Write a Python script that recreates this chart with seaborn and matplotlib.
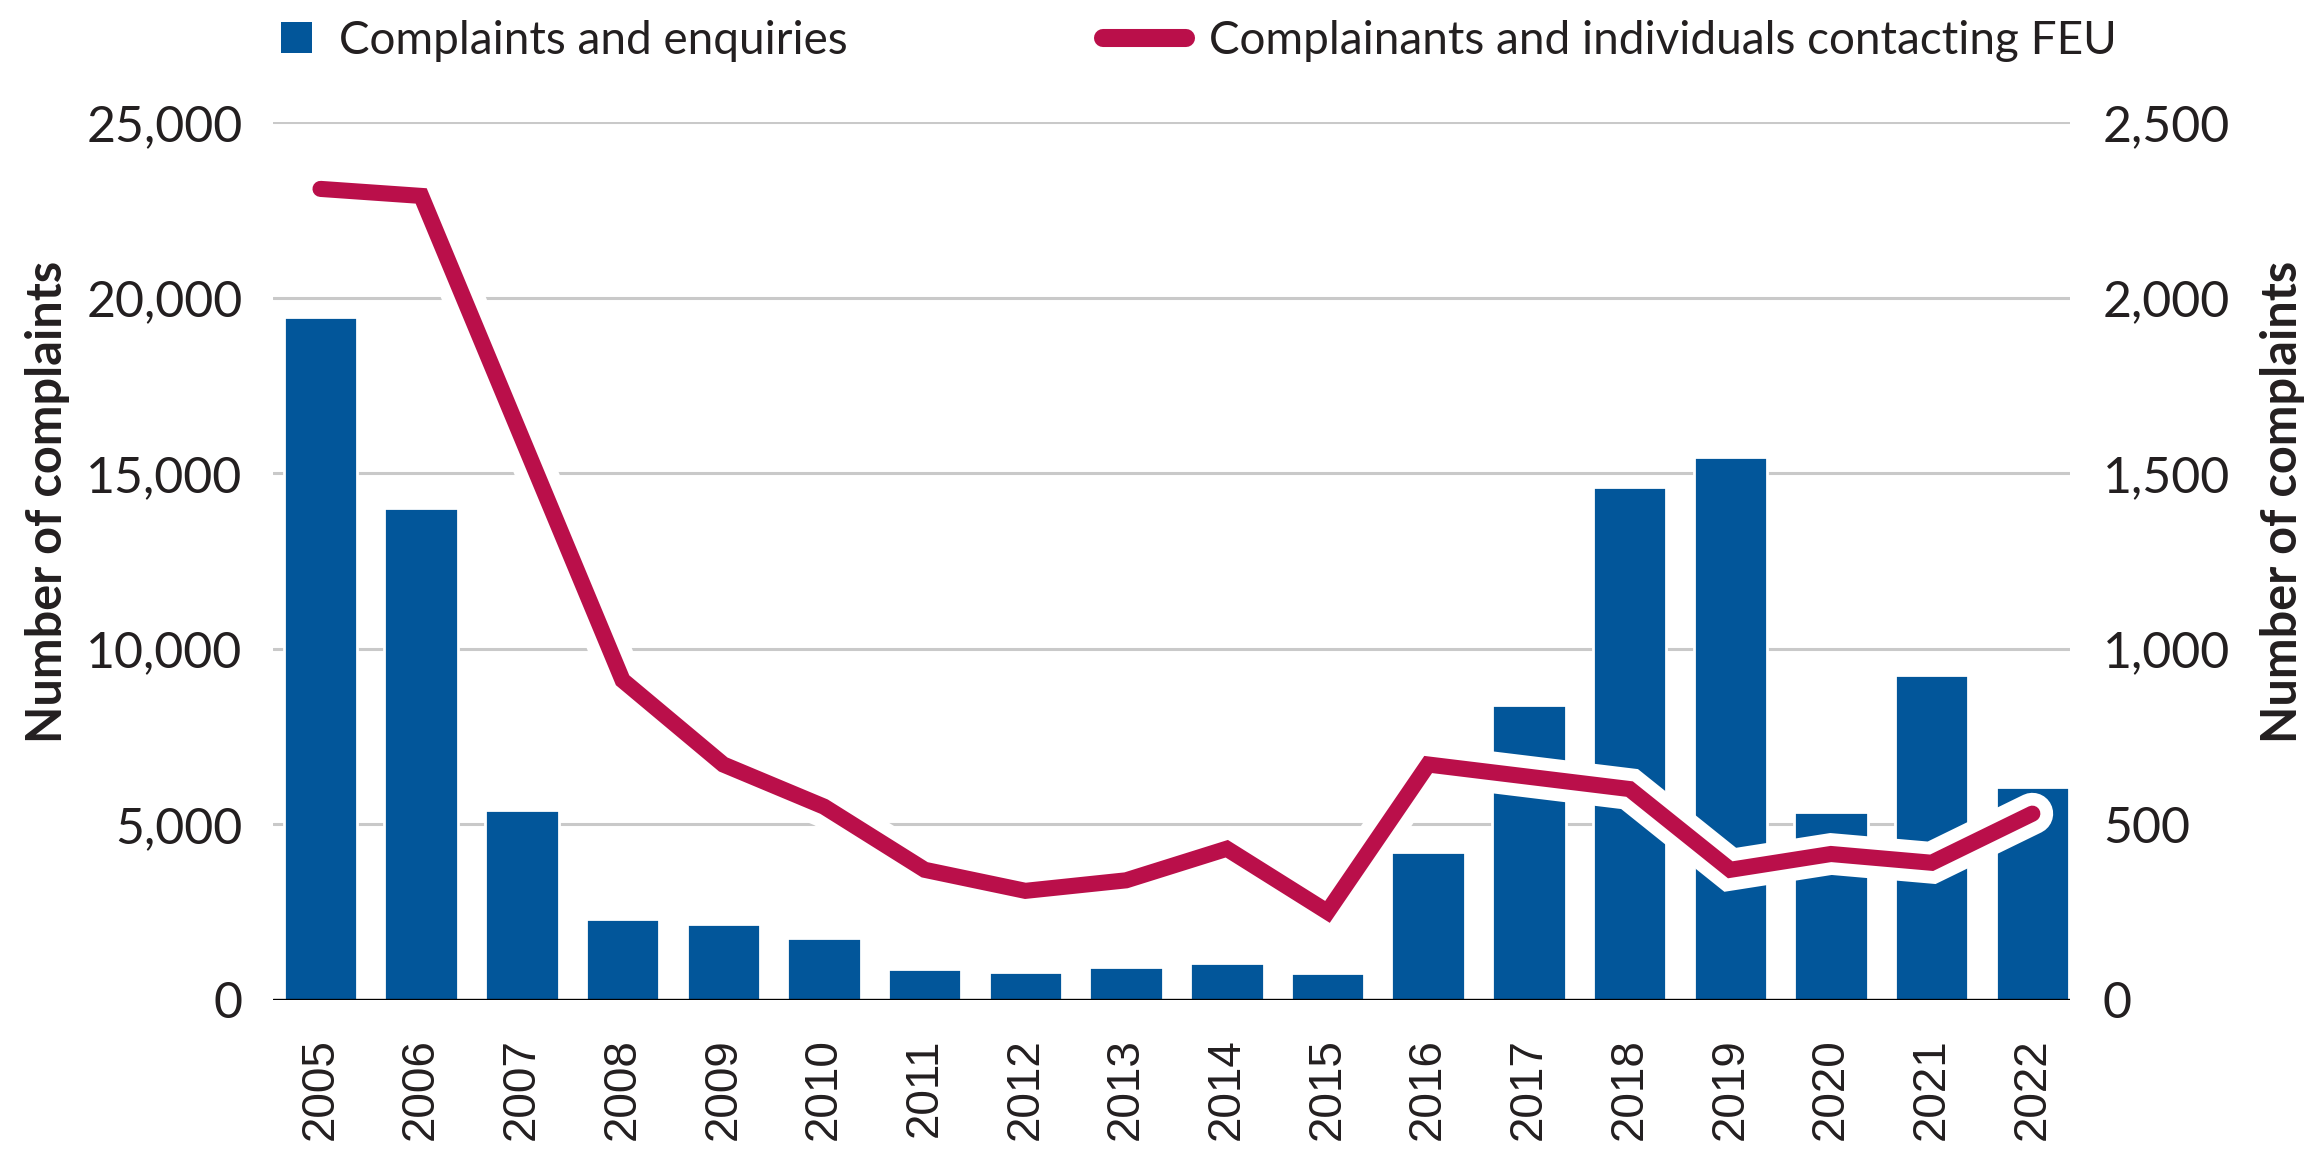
import numpy as np
import pandas as pd
import seaborn as sns
import matplotlib.pyplot as plt
import matplotlib.patheffects as pe
from matplotlib.lines import Line2D
from matplotlib.patches import Patch
from matplotlib.ticker import FuncFormatter

# data
years = [str(y) for y in range(2005, 2023)]
complaints_enquiries = [19450, 14000, 5400, 2300, 2150, 1770, 880, 800, 920, 1050,
                        760, 4200, 8400, 14600, 15450, 5350, 9250, 6050]
complainants = [2310, 2290, 1600, 910, 670, 550, 370, 310, 340, 430,
                250, 670, 635, 600, 370, 415, 390, 530]
left_ticks = [0, 5000, 10000, 15000, 20000, 25000]
right_ticks = [0, 500, 1000, 1500, 2000, 2500]

bar_col = '#02569A'
line_col = '#BA0F4A'
txt_col = '#231F20'

sns.set_theme(style='white')
plt.rcParams['font.family'] = ['Lato', 'DejaVu Sans']

df = pd.DataFrame({'year': years, 'ce': complaints_enquiries, 'cp': complainants})
df['pos'] = np.arange(len(df))

fig, ax = plt.subplots(figsize=(11.575, 5.765), dpi=200)
fig.subplots_adjust(left=0.118, right=0.894, bottom=0.133, top=0.894)

sns.barplot(data=df, x='year', y='ce', color=bar_col, saturation=1, width=0.73, ax=ax, zorder=2)
ax.set_ylim(0, 25000)
ax.set_xlim(-0.47, 17.37)
ax.set_yticks(left_ticks)
ax.yaxis.set_major_formatter(FuncFormatter(lambda v, p: f'{int(v):,}'))
ax.grid(axis='y', color='#C9C9C9', lw=1.1)
ax.grid(axis='x', visible=False)
ax.set_axisbelow(True)
ax.axhline(0, color='black', lw=1.2, zorder=3)
for s in ax.spines.values():
    s.set_visible(False)
ax.tick_params(axis='y', length=0, pad=11, labelsize=18, labelcolor=txt_col)
ax.tick_params(axis='x', length=0, pad=14, labelcolor=txt_col)
for lab in ax.get_xticklabels():
    lab.set_rotation(90)
    lab.set_fontfamily(['Liberation Sans', 'DejaVu Sans'])
    lab.set_fontsize(16.5)
ax.set_xlabel('')
ax.set_ylabel('Number of complaints', fontsize=17.5, fontweight='bold', color=txt_col)
ax.yaxis.set_label_coords(-0.113, 0.567)

ax2 = ax.twinx()
sns.lineplot(data=df, x='pos', y='cp', color=line_col, lw=5.8, ax=ax2,
             solid_capstyle='round', solid_joinstyle='miter',
             path_effects=[pe.Stroke(linewidth=15, foreground='white'), pe.Normal()])
ax2.set_ylim(0, 2500)
ax2.set_xlim(-0.47, 17.37)
ax2.set_yticks(right_ticks)
ax2.yaxis.set_major_formatter(FuncFormatter(lambda v, p: f'{int(v):,}'))
for s in ax2.spines.values():
    s.set_visible(False)
ax2.tick_params(axis='y', length=0, pad=12, labelsize=18, labelcolor=txt_col)
ax2.set_ylabel('Number of complaints', fontsize=17.5, fontweight='bold', color=txt_col)
ax2.yaxis.set_label_coords(1.106, 0.567)
ax2.set_xlabel('')

h1 = Patch(facecolor=bar_col, edgecolor='none')
h2 = Line2D([0], [0], color=line_col, lw=6.5, solid_capstyle='round')
leg1 = ax2.legend(handles=[h1], labels=['Complaints and enquiries'], loc='center left',
                  bbox_to_anchor=(-0.006, 1.093), frameon=False, fontsize=16.5,
                  handlelength=0.68, handleheight=0.68, handletextpad=0.6, borderaxespad=0)
for t in leg1.get_texts():
    t.set_color(txt_col)
ax2.add_artist(leg1)
leg2 = ax2.legend(handles=[h2], labels=['Complainants and individuals contacting FEU'],
                  loc='center left', bbox_to_anchor=(0.452, 1.093), frameon=False, fontsize=16.5,
                  handlelength=1.8, handletextpad=0.5, borderaxespad=0)
for t in leg2.get_texts():
    t.set_color(txt_col)

fig.savefig('out.png', dpi=200)
